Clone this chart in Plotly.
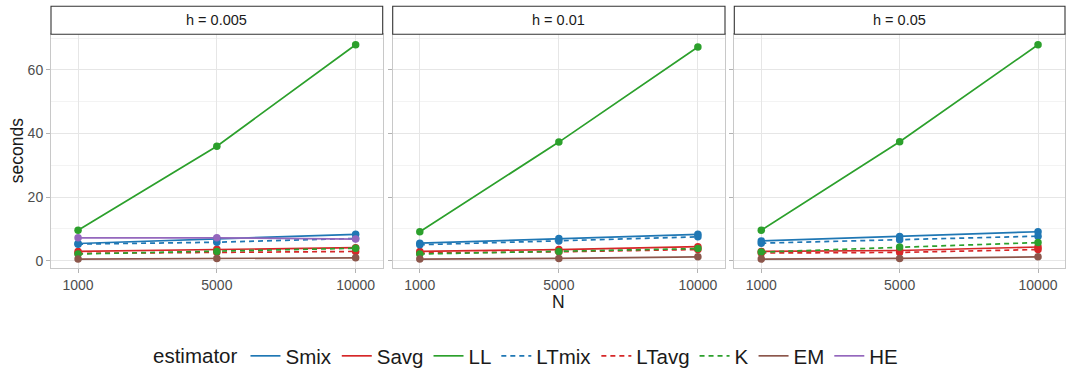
import plotly.graph_objects as go

# ---------------- data ----------------
N_LABELS = ["1000", "5000", "10000"]
PANELS = ["h = 0.005", "h = 0.01", "h = 0.05"]
ESTIMATORS = ["Smix", "Savg", "LL", "LTmix", "LTavg", "K", "EM", "HE"]

# seconds per panel (h = 0.005, h = 0.01, h = 0.05), each over N = 1000, 5000, 10000
SMIX = [[5.4, 6.8, 8.3], [5.5, 7.0, 8.3], [6.2, 7.6, 9.1]]
SAVG = [[2.9, 3.6, 4.1], [2.9, 3.5, 4.4], [2.9, 3.2, 4.3]]
LL = [[9.6, 36.0, 67.9], [9.1, 37.3, 67.2], [9.6, 37.4, 67.9]]
LTMIX = [[5.2, 5.8, 7.0], [5.0, 6.2, 7.5], [5.5, 6.6, 7.7]]
LTAVG = [[2.3, 2.6, 2.9], [2.4, 2.8, 3.5], [2.4, 2.6, 3.5]]
K = [[2.1, 2.9, 3.9], [2.1, 2.9, 3.8], [2.7, 4.3, 5.7]]
EM = [[0.5, 0.7, 0.9], [0.5, 0.7, 1.2], [0.5, 0.7, 1.2]]
HE = [[7.2, 7.2, 6.8], None, None]

Y_TICKS = [0, 20, 40, 60]

SERIES = {
    "Smix": SMIX, "Savg": SAVG, "LL": LL, "LTmix": LTMIX,
    "LTavg": LTAVG, "K": K, "EM": EM, "HE": HE,
}

# ---------------- style ----------------
COLORS = {
    "Smix": "#1f77b4", "Savg": "#d62728", "LL": "#2ca02c", "LTmix": "#1f77b4",
    "LTavg": "#d62728", "K": "#2ca02c", "EM": "#8c564b", "HE": "#9467bd",
}
DASHES = {
    "Smix": "solid", "Savg": "solid", "LL": "solid", "LTmix": "5px,4px",
    "LTavg": "5px,4px", "K": "5px,4px", "EM": "solid", "HE": "solid",
}

W, H = 1069, 369
FONT = "Liberation Sans, Arial, Helvetica, sans-serif"

# pixel geometry of panels
PANEL_X = [(51, 382.7), (392.7, 725), (734.3, 1065)]
PLOT_TOP, PLOT_BOT = 34.3, 268.3
STRIP_TOP = 6.3


def px_x(v):
    return v / W


def px_y(v):
    return (H - v) / H


fig = go.Figure()

# lines first (with legend), then points on top
for name in ESTIMATORS:
    data = SERIES[name]
    first = True
    for p, vals in enumerate(data):
        if vals is None:
            continue
        fig.add_trace(go.Scatter(
            x=N_LABELS, y=vals, mode="lines",
            line=dict(color=COLORS[name], width=1.7, dash=DASHES[name]),
            name=name, legendgroup=name, showlegend=first,
            xaxis="x" if p == 0 else f"x{p+1}",
            yaxis="y" if p == 0 else f"y{p+1}",
        ))
        first = False

for name in ESTIMATORS:
    data = SERIES[name]
    for p, vals in enumerate(data):
        if vals is None:
            continue
        fig.add_trace(go.Scatter(
            x=N_LABELS, y=vals, mode="markers",
            marker=dict(color=COLORS[name], size=7.5),
            name=name, legendgroup=name, showlegend=False,
            xaxis="x" if p == 0 else f"x{p+1}",
            yaxis="y" if p == 0 else f"y{p+1}",
        ))

layout = dict(
    width=W, height=H,
    margin=dict(l=0, r=0, t=0, b=0, autoexpand=False),
    paper_bgcolor="white", plot_bgcolor="white",
    font=dict(family=FONT, color="#4d4d4d", size=14),
    showlegend=True,
    legend=dict(
        orientation="h", x=px_x(151), y=px_y(356), xanchor="left", yanchor="middle",
        font=dict(size=20.5, color="#1a1a1a", family=FONT),
        title=dict(text="estimator", font=dict(size=20.5, color="#1a1a1a", family=FONT), side="left"),
        itemwidth=30, tracegroupgap=0, bgcolor="rgba(0,0,0,0)",
    ),
)

shapes = []
annotations = []
for p, (x0, x1) in enumerate(PANEL_X):
    sfx = "" if p == 0 else str(p + 1)
    layout["xaxis" + sfx] = dict(
        domain=[px_x(x0), px_x(x1)], anchor="y" + sfx,
        type="category", range=[-0.195, 2.195],
        showgrid=True, gridcolor="#e6e6e6", gridwidth=1,
        showline=True, mirror=True, linecolor="#c8c8c8", linewidth=1,
        ticks="outside", ticklen=4, tickcolor="#b3b3b3",
        tickfont=dict(size=14, color="#4d4d4d", family=FONT),
        zeroline=False, fixedrange=True,
    )
    layout["yaxis" + sfx] = dict(
        domain=[px_y(PLOT_BOT), px_y(PLOT_TOP)], anchor="x" + sfx,
        range=[-2.4, 71.2], tickvals=Y_TICKS,
        showticklabels=(p == 0),
        showgrid=True, gridcolor="#e6e6e6", gridwidth=1,
        minor=dict(dtick=10, tick0=0, showgrid=True, gridcolor="#f3f3f3", gridwidth=1, ticks=""),
        showline=True, mirror=True, linecolor="#c8c8c8", linewidth=1,
        ticks="outside", ticklen=4, tickcolor="#b3b3b3",
        tickfont=dict(size=14, color="#4d4d4d", family=FONT),
        zeroline=False, fixedrange=True,
    )
    # strip
    shapes.append(dict(
        type="rect", xref="paper", yref="paper",
        x0=px_x(x0), x1=px_x(x1), y0=px_y(PLOT_TOP), y1=px_y(STRIP_TOP),
        fillcolor="white", line=dict(color="#333333", width=1.1),
    ))
    annotations.append(dict(
        text=PANELS[p], xref="paper", yref="paper",
        x=px_x((x0 + x1) / 2), y=px_y((PLOT_TOP + STRIP_TOP) / 2),
        xanchor="center", yanchor="middle", showarrow=False,
        font=dict(size=14.5, color="#1a1a1a", family=FONT),
    ))

annotations.append(dict(
    text="seconds", xref="paper", yref="paper",
    x=px_x(17), y=px_y((PLOT_TOP + PLOT_BOT) / 2),
    xanchor="center", yanchor="middle", showarrow=False, textangle=-90,
    font=dict(size=17.5, color="#1a1a1a", family=FONT),
))
annotations.append(dict(
    text="N", xref="paper", yref="paper",
    x=px_x((PANEL_X[1][0] + PANEL_X[1][1]) / 2), y=px_y(302),
    xanchor="center", yanchor="middle", showarrow=False,
    font=dict(size=17.5, color="#1a1a1a", family=FONT),
))

layout["shapes"] = shapes
layout["annotations"] = annotations
fig.update_layout(**layout)

fig.write_html("out.html", config={"displayModeBar": False})
